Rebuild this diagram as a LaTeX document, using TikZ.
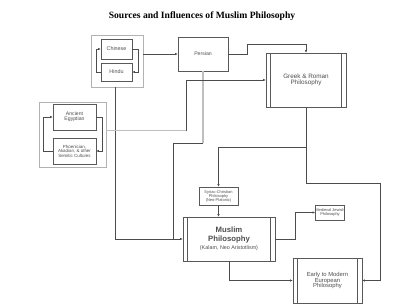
\documentclass[tikz,border=0pt]{standalone}
\usepackage{fontspec}
\setmainfont{Liberation Sans}
\newfontfamily\titlefont{Liberation Serif}
\usetikzlibrary{arrows.meta}
\newcommand{\pxu}{0.3mm}
\newcommand{\fsz}[1]{\fontsize{#1}{#1}\selectfont}
\tikzset{
  box/.style={draw=black!65, line width=0.4pt, text=black!70, align=center,
    inner sep=0pt, font=\fsz{4.6}},
  groupbox/.style={draw=black!30, line width=0.7pt},
  procbox/.style={box, path picture={
    \draw[black!65,line width=0.4pt]
      ([xshift=4.5*\pxu]path picture bounding box.north west) --
      ([xshift=4.5*\pxu]path picture bounding box.south west)
      ([xshift=-4.5*\pxu]path picture bounding box.north east) --
      ([xshift=-4.5*\pxu]path picture bounding box.south east);}},
  wire/.style={draw=black!70, line width=0.4pt},
  link/.style={wire, -{Latex[length=2.2pt,width=2pt]}},
  feed/.style={draw=black!25, line width=0.9pt},
}

\begin{document}
\begin{tikzpicture}[x=0.3mm,y=-0.3mm]
  \useasboundingbox (0,0) rectangle (400,305);
  % title
  \node[font=\titlefont\bfseries\fsz{8.2}] (title) at (202,16)
    {Sources and Influences of Muslim Philosophy};
  % eastern sources
  \node[groupbox, minimum width=52*\pxu, minimum height=52*\pxu] (east) at (117,61) {};
  \node[box, minimum width=31*\pxu, minimum height=20*\pxu] (chinese) at (116.5,49) {Chinese};
  \node[box, minimum width=31*\pxu, minimum height=18*\pxu] (hindu) at (116.5,72) {Hindu};
  % near eastern sources
  \node[groupbox, minimum width=67*\pxu, minimum height=65*\pxu] (near) at (72.5,134.5) {};
  \node[box, minimum width=43*\pxu, minimum height=26*\pxu, font=\fsz{4.4}] (egypt) at (74.5,117)
    {Ancient\\Egyptian};
  \node[box, minimum width=43*\pxu, minimum height=26*\pxu, font=\fsz{3.8}] (phoen) at (74.5,151)
    {Phoenician,\\Akadian, \& other\\Semitic Cultures};
  % persian and greek
  \node[box, minimum width=50*\pxu, minimum height=34*\pxu, font=\fsz{4.4}] (persian) at (203,54) {Persian};
  \node[procbox, minimum width=80*\pxu, minimum height=54*\pxu, font=\fsz{5.4}] (greek) at (306,80)
    {Greek \& Roman\\Philosophy};
  % muslim philosophy and what follows
  \node[box, minimum width=39*\pxu, minimum height=18*\pxu, font=\fsz{3.4}] (syriac) at (218.5,196)
    {Syriac-Christian\\Philosophy\\(Neo-Platonic)};
  \node[procbox, minimum width=92*\pxu, minimum height=44*\pxu] (muslim) at (229,239)
    {{\bfseries\fsz{6.6}Muslim}\\[1.5pt]{\bfseries\fsz{6.6}Philosophy}\\[1.5pt]{\fsz{4.6}(Kalam, Neo Aristotlism)}};
  \node[box, minimum width=28*\pxu, minimum height=15*\pxu, font=\fsz{3.4}] (jewish) at (330,212.5)
    {Medieval Jewish\\Philosophy};
  \node[procbox, minimum width=69*\pxu, minimum height=45*\pxu, font=\fsz{5}] (early) at (327.5,280.5)
    {Early to Modern\\European\\Philosophy};
  % connectors inside the groups
  \draw[link] (hindu.west) -- ++(-5,0) |- (chinese.west);
  \draw[link] (chinese.east) -- ++(6,0) |- (hindu.east);
  \draw[link] (phoen.west) -- ++(-10,0) |- (egypt.west);
  \draw[link] (egypt.east) -- ++(6,0) |- (phoen.east);
  % connectors between the boxes
  \draw[link] (persian.west -| east.east) -- (persian.west);
  \draw[link] (persian.east) -- ++(19,0) -- ++(0,-10) -| (greek.north);
  \draw[link] ([xshift=-2*\pxu]east.south) |- (muslim.west);
  \draw[feed] (persian.south) -- ++(0,72) coordinate (pturn);
  \draw[wire] (pturn) -| ([xshift=-10*\pxu]muslim.west);
  \draw[feed] ([yshift=4*\pxu]near.east) -- ++(80,0) coordinate (eturn);
  \draw[link] (eturn) |- (greek.west);
  \draw[link] (greek.south) -- ++(0,40) -| (syriac.north);
  \draw[link] (greek.south) |- ++(74,76) |- (early.east);
  \draw[link] (syriac.south) -- (syriac.south |- muslim.north);
  \draw[link] (muslim.east) -- ++(20,0) |- (jewish.west);
  \draw[link] (muslim.south) |- (early.west);
\end{tikzpicture}
\end{document}
